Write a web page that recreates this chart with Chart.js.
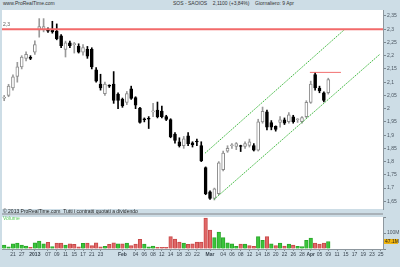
<!DOCTYPE html>
<html><head><meta charset="utf-8">
<script src="https://cdn.jsdelivr.net/npm/chart.js@4.4.1/dist/chart.umd.min.js"></script>
<style>
html,body{margin:0;padding:0;background:#cddde6;width:400px;height:267px;overflow:hidden;font-family:'Liberation Sans',Arial,sans-serif;}
.t{position:absolute;font-size:5px;line-height:5px;white-space:nowrap;color:#333;}
#c1{position:absolute;left:0;top:6px;}
#sep{position:absolute;left:2px;top:213px;width:381px;height:2px;background:#a9b2b9;}
#c2{position:absolute;left:0;top:213px;}
</style></head>
<body>
<canvas id="c1" width="400" height="207"></canvas>
<canvas id="c2" width="400" height="54"></canvas>
<div id="sep"></div>
<div class="t" style="left:3px;top:1px">www.ProRealTime.com</div>
<div class="t" style="left:173px;top:1px">SOS - SAOIOS &nbsp;&nbsp; 2,1100 (+3,84%) &nbsp;&nbsp; Giornaliero: 9 Apr</div>
<div class="t" style="left:3px;top:209px;color:#222">© 2013 ProRealTime.com &nbsp;Tutti i contratti quotati a dividendo</div>
<div class="t" style="left:3px;top:216px;color:#5c5">Volume</div>
<div class="t" style="left:3px;top:22px;color:#555">2,3</div>
<script>
// ---- data ----
const dates = ['19/12','20/12','21/12','24/12','27/12','28/12','31/12',
 '02/01','03/01','04/01','07/01','08/01','09/01','10/01','11/01','14/01','15/01','16/01','17/01','18/01','21/01','22/01','23/01','24/01','25/01','28/01','29/01','30/01','31/01',
 '01/02','04/02','05/02','06/02','07/02','08/02','11/02','12/02','13/02','14/02','15/02','18/02','19/02','20/02','21/02','22/02','25/02','26/02','27/02','28/02',
 '01/03','04/03','05/03','06/03','07/03','08/03','11/03','12/03','13/03','14/03','15/03','18/03','19/03','20/03','21/03','22/03','25/03','26/03','27/03','28/03',
 '02/04','03/04','04/04','05/04','08/04','09/04'];
const open  = [2.040,2.050,2.078,2.122,2.158,2.190,2.193,2.213,2.297,2.297,2.300,2.297,2.293,2.275,2.224,2.249,2.242,2.235,2.213,2.224,2.224,2.147,2.093,2.057,2.087,2.093,2.055,2.035,2.024,2.075,2.042,2.002,1.960,1.962,1.988,1.995,1.991,1.970,1.959,1.904,1.875,1.860,1.897,1.871,1.875,1.861,1.777,1.686,1.661,1.679,1.770,1.839,1.860,1.857,1.858,1.857,1.861,1.861,1.843,1.950,1.988,1.947,1.933,1.948,1.958,1.951,1.969,1.958,1.951,1.970,2.024,2.129,2.078,2.060,2.060];
const high  = [2.050,2.092,2.128,2.175,2.200,2.215,2.200,2.256,2.340,2.340,2.305,2.330,2.320,2.280,2.255,2.255,2.250,2.245,2.242,2.235,2.230,2.155,2.130,2.100,2.090,2.140,2.060,2.040,2.065,2.085,2.045,2.005,1.965,1.970,2.020,2.025,2.010,1.975,1.962,1.910,1.890,1.895,1.910,1.875,1.885,1.875,1.780,1.690,1.700,1.800,1.840,1.860,1.868,1.872,1.862,1.875,1.885,1.868,1.960,2.006,1.995,1.955,1.935,1.970,1.965,1.985,1.975,1.962,1.970,2.030,2.104,2.137,2.085,2.064,2.115];
const low   = [2.030,2.045,2.070,2.100,2.150,2.180,2.185,2.205,2.270,2.290,2.288,2.285,2.260,2.230,2.195,2.230,2.210,2.210,2.202,2.190,2.150,2.100,2.070,2.050,2.080,2.020,2.000,2.005,2.015,2.035,2.000,1.945,1.950,1.925,1.970,1.965,1.965,1.955,1.890,1.870,1.855,1.850,1.860,1.855,1.860,1.800,1.675,1.657,1.655,1.675,1.765,1.835,1.850,1.845,1.838,1.850,1.855,1.840,1.840,1.945,1.920,1.920,1.915,1.930,1.940,1.945,1.945,1.948,1.945,1.965,2.020,2.070,2.060,2.025,2.055];
const close = [2.042,2.085,2.120,2.158,2.195,2.205,2.190,2.242,2.310,2.310,2.293,2.290,2.264,2.238,2.249,2.238,2.243,2.213,2.231,2.198,2.158,2.104,2.078,2.093,2.085,2.031,2.031,2.010,2.057,2.039,2.013,1.948,1.958,1.960,1.990,1.970,1.970,1.959,1.893,1.880,1.860,1.886,1.868,1.864,1.874,1.803,1.679,1.661,1.697,1.795,1.832,1.850,1.861,1.868,1.857,1.868,1.875,1.843,1.950,1.990,1.930,1.930,1.922,1.958,1.945,1.977,1.951,1.959,1.966,2.024,2.093,2.078,2.067,2.031,2.110];
const volumeM = [25,13,33,37,24,19,10,38,50,33,41,15,37,37,24,33,29,13,35,37,21,38,13,17,29,38,33,33,37,21,31,60,31,13,19,10,10,10,77,62,43,37,29,33,43,43,193,118,71,106,71,38,33,17,31,31,21,17,77,54,77,33,21,37,19,31,24,17,15,54,68,37,31,37,47.1];
// volume bar colour: 1 = green (up), 0 = red (down)
const volumeUp = [1,1,1,1,1,1,0,1,1,1,0,1,0,0,1,0,0,0,1,0,0,0,0,1,0,0,1,0,1,0,0,0,1,1,1,0,0,0,0,0,0,1,0,0,0,0,0,0,1,1,1,1,1,1,0,1,0,0,1,1,0,1,0,1,0,1,0,1,1,1,1,0,0,0,1];
const slots = 87;
const tickLabels = {2:'21',4:'27',7:'2013',10:'07',12:'09',14:'11',16:'15',18:'17',20:'21',22:'23',27:'Feb',30:'04',32:'06',34:'08',36:'12',38:'14',40:'18',42:'20',44:'22',47:'Mar',50:'04',52:'06',54:'08',56:'12',58:'14',60:'18',62:'20',64:'22',66:'26',68:'28',70:'Apr',72:'05',74:'09',76:'11',78:'15',80:'17',82:'19',84:'23',86:'25'};
const monthLabels = ['2013','Feb','Mar','Apr'];
const resistance = 2.30;
const upperChannel = [{x:45.85,y:1.8316},{x:77.8,y:2.30}];
const lowerChannel = [{x:47.9,y:1.657},{x:85.8,y:2.2056}];
const recentHigh = [{x:69.8,y:2.137},{x:76.9,y:2.137}];
const yTicksPrice = {min:1.621, max:2.3726, step:0.05};
const yVol = {min:0, max:200, step:50};

// ---- build ----
const FONT = "'Liberation Sans', Arial, sans-serif";
Chart.defaults.font.family = FONT;
Chart.defaults.font.size = 5;
Chart.defaults.animation = false;
const n = close.length;
const up = close.map((c,i)=> c >= open[i]);
const bodies = close.map((c,i)=>({x:i, y:[Math.min(open[i],c), Math.max(open[i],c)]}));
const wicks = close.map((c,i)=>({x:i, y:[low[i], high[i]]}));
const whiteBg = {id:'wbg', beforeDraw(ch){const a=ch.chartArea,c=ch.ctx;c.save();c.fillStyle='#fff';c.fillRect(a.left,a.top,a.right-a.left,a.bottom-a.top);c.restore();}};
const fmt = v => { let s = (Math.round(v*100)/100).toFixed(2); s = s.replace(/0$/,'').replace(/\.0?$/,''); return s.replace('.',','); };

new Chart(document.getElementById('c1'), {
  type:'bar',
  data:{datasets:[
    {type:'line', data:[{x:-0.5,y:resistance},{x:slots-0.5,y:resistance}], borderColor:'#f26a6a', borderWidth:2, pointRadius:0, order:0},
    {type:'line', data:recentHigh, borderColor:'#f27070', borderWidth:1, pointRadius:0, order:0},
    {type:'line', data:upperChannel, borderColor:'#3cb83c', borderWidth:1, borderDash:[1.5,1], pointRadius:0, order:0},
    {type:'line', data:lowerChannel, borderColor:'#3cb83c', borderWidth:1, borderDash:[1.5,1], pointRadius:0, order:0},
    {data:bodies, grouped:false, barThickness:3, borderWidth:1, borderSkipped:false, minBarLength:1,
      backgroundColor: up.map(u=>u?'#ffffff':'#000000'), borderColor: up.map(u=>u?'#8c8c8c':'#000000'), order:1},
    {data:wicks, grouped:false, barThickness:1, borderWidth:0, backgroundColor: up.map(u=>u?'#9a9a9a':'#000000'), order:2}
  ]},
  options:{responsive:false, animation:false, events:[],
    layout:{padding:{left:2,right:0,top:0,bottom:0}},
    plugins:{legend:{display:false}, tooltip:{enabled:false}},
    scales:{
      x:{type:'linear', min:-0.5, max:slots-0.5, display:false, offset:false, grid:{offset:false}},
      y:{position:'right', min:yTicksPrice.min, max:yTicksPrice.max,
         afterFit(s){s.width=17;},
         grid:{drawOnChartArea:false, tickLength:3, color:'#7d8890'},
         border:{color:'#8d979e'},
         ticks:{stepSize:yTicksPrice.step, includeBounds:false, color:'#4a5560', padding:1, font:{size:5}, callback:v=>fmt(v)}}
    }},
  plugins:[whiteBg]
});

const volBox = {id:'vbox', afterDraw(ch){const c=ch.ctx, y=ch.scales.y.getPixelForValue(volumeM[n-1]); c.save(); c.fillStyle='#f2b50c'; c.fillRect(384,y-2.5,14,5); c.fillStyle='#222'; c.font='5px '+FONT; c.textBaseline='middle'; c.fillText(volumeM[n-1].toFixed(1)+'M',385,y+0.3); c.restore();}};

new Chart(document.getElementById('c2'), {
  type:'bar',
  data:{datasets:[{data:volumeM.map((v,i)=>({x:i,y:v})), barThickness:3.6, borderWidth:1, borderSkipped:'bottom',
     backgroundColor: volumeUp.map(u=>u?'#3ac43a':'#e06868'), borderColor: volumeUp.map(u=>u?'#2aa82a':'#c84848')}]},
  options:{responsive:false, animation:false, events:[],
    layout:{padding:{left:2,right:0,top:2,bottom:0}},
    plugins:{legend:{display:false}, tooltip:{enabled:false}},
    scales:{
      x:{type:'linear', min:-0.5, max:slots-0.5, position:'bottom', offset:false,
         afterFit(s){s.height=18;},
         afterBuildTicks(s){s.ticks = Object.keys(tickLabels).map(k=>({value:+k}));},
         grid:{drawOnChartArea:false, tickLength:2, color:'#7d8890', offset:false},
         border:{color:'#8d979e'},
         ticks:{autoSkip:false, maxRotation:0, padding:1, color:'#3a4550',
           font:(ctx)=>({size:5, weight: monthLabels.includes(tickLabels[ctx.tick && ctx.tick.value]) ? 'bold':'normal'}),
           callback:v=>tickLabels[v]||''}},
      y:{position:'right', min:yVol.min, max:yVol.max,
         afterFit(s){s.width=17;},
         grid:{drawOnChartArea:false, tickLength:3, color:'#7d8890'},
         border:{color:'#8d979e'},
         ticks:{stepSize:yVol.step, color:'#4a5560', padding:1, font:{size:5}, callback:v=>(v===100||v===150)?v+'M':''}}
    }},
  plugins:[whiteBg, volBox]
});
</script>
</body></html>
